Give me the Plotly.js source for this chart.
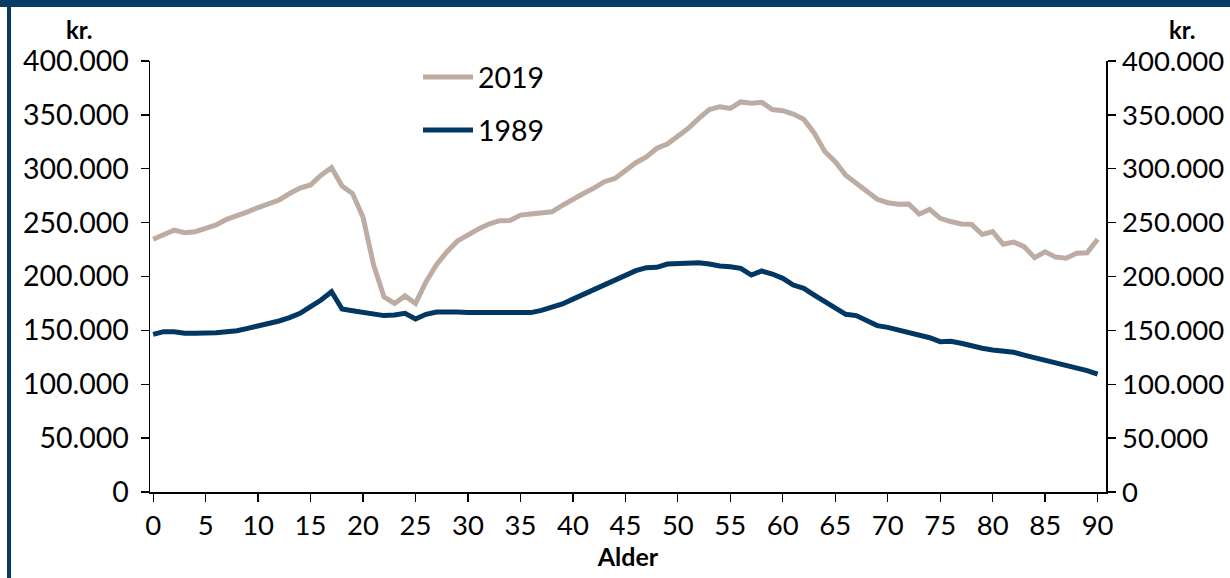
<!DOCTYPE html>
<html>
<head>
<meta charset="utf-8">
<script src="https://cdn.plot.ly/plotly-3.0.1.min.js"></script>
<style>
  html, body { margin: 0; padding: 0; background: #ffffff; }
  #chart { width: 1230px; height: 578px; }
</style>
</head>
<body>
<div id="chart"></div>
<script>
// Age categories 0..90
const ages = [0,1,2,3,4,5,6,7,8,9,10,11,12,13,14,15,16,17,18,19,20,21,22,23,24,25,26,27,28,29,30,
  31,32,33,34,35,36,37,38,39,40,41,42,43,44,45,46,47,48,49,50,51,52,53,54,55,56,57,58,59,60,
  61,62,63,64,65,66,67,68,69,70,71,72,73,74,75,76,77,78,79,80,81,82,83,84,85,86,87,88,89,90];

// Real disposable income, kr. (2019)
const income2019 = [234500,238500,243000,240700,241600,244700,247800,253000,256000,260000,264000,
  267000,271000,277000,282000,285000,294000,301000,284000,277000,255000,211000,181000,175000,182000,
  175000,195000,211000,223000,233000,239000,244000,248700,251800,252000,257000,258000,258600,260000,
  266000,272000,277000,282000,288000,291000,299000,305600,311000,319000,323000,330000,337500,346800,
  355000,357600,356000,362000,360700,361600,355000,353900,350800,346000,333000,316000,306600,294000,
  286500,277800,271600,268500,267000,267300,258000,262300,254000,251000,248700,248400,239000,241600,
  229900,232000,227700,217500,223000,218000,217000,221500,222000,234500];

// Real disposable income, kr. (1989)
const income1989 = [146300,148800,148800,147300,147300,147300,147900,148800,149700,151900,154000,
  155900,158700,161800,165800,172000,178200,185900,169800,168300,166400,164900,163700,164300,165800,
  160600,164900,167000,167300,167000,166700,166700,166100,165800,165800,166400,166500,168500,171500,
  174500,179000,183500,188000,193000,197500,201400,205400,208200,208500,211600,212200,213100,212800,
  211600,209700,209100,207600,201400,205100,202300,198300,192100,189000,182800,176600,170400,164900,
  163700,159000,154400,152800,150300,147300,144800,143200,139500,139800,138000,135500,133400,131800,
  130900,129700,127100,124700,122500,120400,118500,115400,112600,109500];

const seriesNames = ["2019", "1989"];
const xTicks = [0,5,10,15,20,25,30,35,40,45,50,55,60,65,70,75,80,85,90];
const yTicks = [0,50000,100000,150000,200000,250000,300000,350000,400000];

const FONT = "Lato, 'Open Sans', sans-serif";
const NAVY = "#003763";
const BEIGE = "#bdaca2";
const FRAME = "#0a3a66";

const traces = [
  {x: ages, y: income2019, name: seriesNames[0], type: "scatter", mode: "lines",
   line: {color: BEIGE, width: 5}, yaxis: "y", legend: "legend", hoverinfo: "x+y"},
  {x: ages, y: income1989, name: seriesNames[1], type: "scatter", mode: "lines",
   line: {color: NAVY, width: 5}, yaxis: "y2", legend: "legend2", hoverinfo: "x+y"}
];

// plot area in px: x 150..1106, y 61..492
const W = 956, H = 431, L = 150, T = 61;
const px = v => (v - L) / W;
const py = v => 1 - (v - T) / H;

const axisCommon = {
  range: [0, 400000], tickvals: yTicks, tickformat: ",d",
  showgrid: false, zeroline: false, showline: true, linecolor: "#000", linewidth: 1.5,
  ticks: "outside", ticklen: 8, tickwidth: 1.3, tickcolor: "#000",
  fixedrange: true
};

const legendFont = {family: FONT, size: 28.5, color: "#000"};

const layout = {
  width: 1230, height: 578,
  margin: {l: 150, r: 124, t: 61, b: 86, pad: 0},
  paper_bgcolor: "#ffffff", plot_bgcolor: "#ffffff",
  separators: ",.",
  font: {family: FONT, color: "#000"},
  showlegend: true,
  xaxis: {
    range: [-0.3, 90.8], tickvals: xTicks, ticktext: xTicks.map(String),
    showgrid: false, zeroline: false, showline: true, linecolor: "#000", linewidth: 1.5,
    ticks: "outside", ticklen: 8, tickwidth: 1.3, tickcolor: "#000",
    tickfont: {family: FONT, size: 27.5, color: "#000"},
    title: {text: "<b>Alder</b>", font: {family: FONT, size: 25, color: "#000"}, standoff: 0},
    fixedrange: true
  },
  yaxis: Object.assign({}, axisCommon, {side: "left", ticklabelstandoff: 6,
    tickfont: {family: FONT, size: 28.5, color: "#000"}}),
  yaxis2: Object.assign({}, axisCommon, {side: "right", overlaying: "y", ticklabelstandoff: 1,
    tickfont: {family: FONT, size: 27.5, color: "#000"}}),
  legend: {
    x: px(418), y: py(52), xanchor: "left", yanchor: "top", itemwidth: 50,
    bgcolor: "rgba(0,0,0,0)", borderwidth: 0, font: legendFont
  },
  legend2: {
    x: px(418), y: py(105), xanchor: "left", yanchor: "top", itemwidth: 50,
    bgcolor: "rgba(0,0,0,0)", borderwidth: 0, font: legendFont
  },
  shapes: [
    {type: "rect", xref: "paper", yref: "paper", x0: px(0), x1: px(1230), y0: py(7), y1: py(0),
     fillcolor: FRAME, line: {width: 0}, layer: "above"},
    {type: "rect", xref: "paper", yref: "paper", x0: px(7), x1: px(11), y0: py(578), y1: py(0),
     fillcolor: FRAME, line: {width: 0}, layer: "above"}
  ],
  annotations: [
    {text: "<b>kr.</b>", xref: "paper", yref: "paper", x: px(79), y: py(30),
     xanchor: "center", yanchor: "middle", showarrow: false,
     font: {family: FONT, size: 24, color: "#000"}},
    {text: "<b>kr.</b>", xref: "paper", yref: "paper", x: px(1182), y: py(30),
     xanchor: "center", yanchor: "middle", showarrow: false,
     font: {family: FONT, size: 24, color: "#000"}}
  ]
};

Plotly.newPlot("chart", traces, layout, {displayModeBar: false, staticPlot: true});
</script>
</body>
</html>
